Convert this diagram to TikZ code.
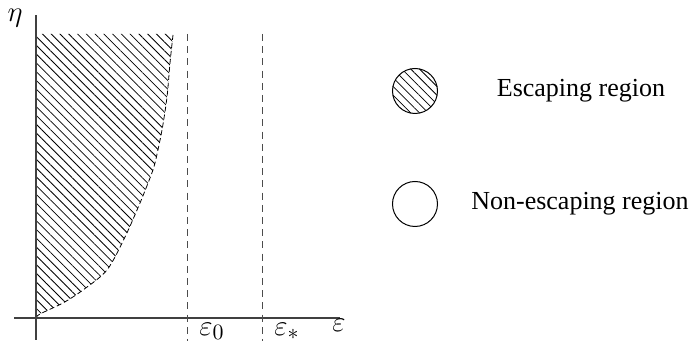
\documentclass[tikz,border=0pt]{standalone}
\usepackage{fontspec}
\setmainfont{Liberation Serif}
\usepackage{tikz}
\usetikzlibrary{patterns.meta}
\tikzset{
  ax/.style={draw=black!75, line width=0.55pt},                         % axis
  dl/.style={draw=black!70, line width=0.5pt, dash pattern=on 3.5pt off 2.6pt}, % dashed level
  hatch/.style={pattern={Lines[angle=-45, distance=3.1pt, line width=0.4pt]}},
  bd/.style={draw=black, line width=0.4pt, dash pattern=on 2.5pt off 1.5pt},  % region boundary
  lab/.style={font=\fontsize{13}{15}\selectfont, inner sep=1pt},
  mlab/.style={font=\fontsize{15}{17}\selectfont, inner sep=1pt},
  disc/.style={circle, draw=black, line width=0.5pt, minimum size=22.5pt, inner sep=0pt},
}
\begin{document}
\begin{tikzpicture}[x=0.5pt, y=-0.5pt]
  \useasboundingbox (0,0) rectangle (693,351);
  % escaping region
  \fill[hatch] (36,34) -- (173,34)
    -- plot[smooth] coordinates {(173,35) (170,63) (167,97) (162,130) (155,163) (150,178)
                              (140,203) (125,237) (107,270) (83,290) (63,303) (40,314) (36,318)}
    -- cycle;
  \draw[bd] plot[smooth] coordinates {(173,35) (170,63) (167,97) (162,130) (155,163) (150,178)
                              (140,203) (125,237) (107,270) (83,290) (63,303) (40,314) (36,318)};
  % axes
  \coordinate (yb) at (36,340);
  \coordinate (yt) at (36,15);
  \coordinate (xl) at (14,318);
  \coordinate (xr) at (340,318);
  \draw[ax] (yb) -- (yt);
  \draw[ax] (xl) -- (xr);
  \node[mlab] (eta) at (15,18) {$\eta$};
  \node[mlab] (eps) at (339,325) {$\varepsilon$};
  % levels eps_0 and eps_*
  \foreach \x/\n/\t in {188/e0/0, 263/es/*} {
    \coordinate (\n t) at (\x,34);
    \coordinate (\n b) at (\x,341);
    \draw[dl] (\n t) -- (\n b);
    \node[mlab, anchor=west] (\n) at (\x+9,331) {$\varepsilon_{\t}$};
  }
  % legend
  \node[disc, hatch] (c1) at (415,91) {};
  \node[disc] (c2) at (415,204) {};
  \node[lab] (t1) at (581,91) {Escaping region};
  \node[lab] (t2) at (580,204) {Non-escaping region};
\end{tikzpicture}
\end{document}
